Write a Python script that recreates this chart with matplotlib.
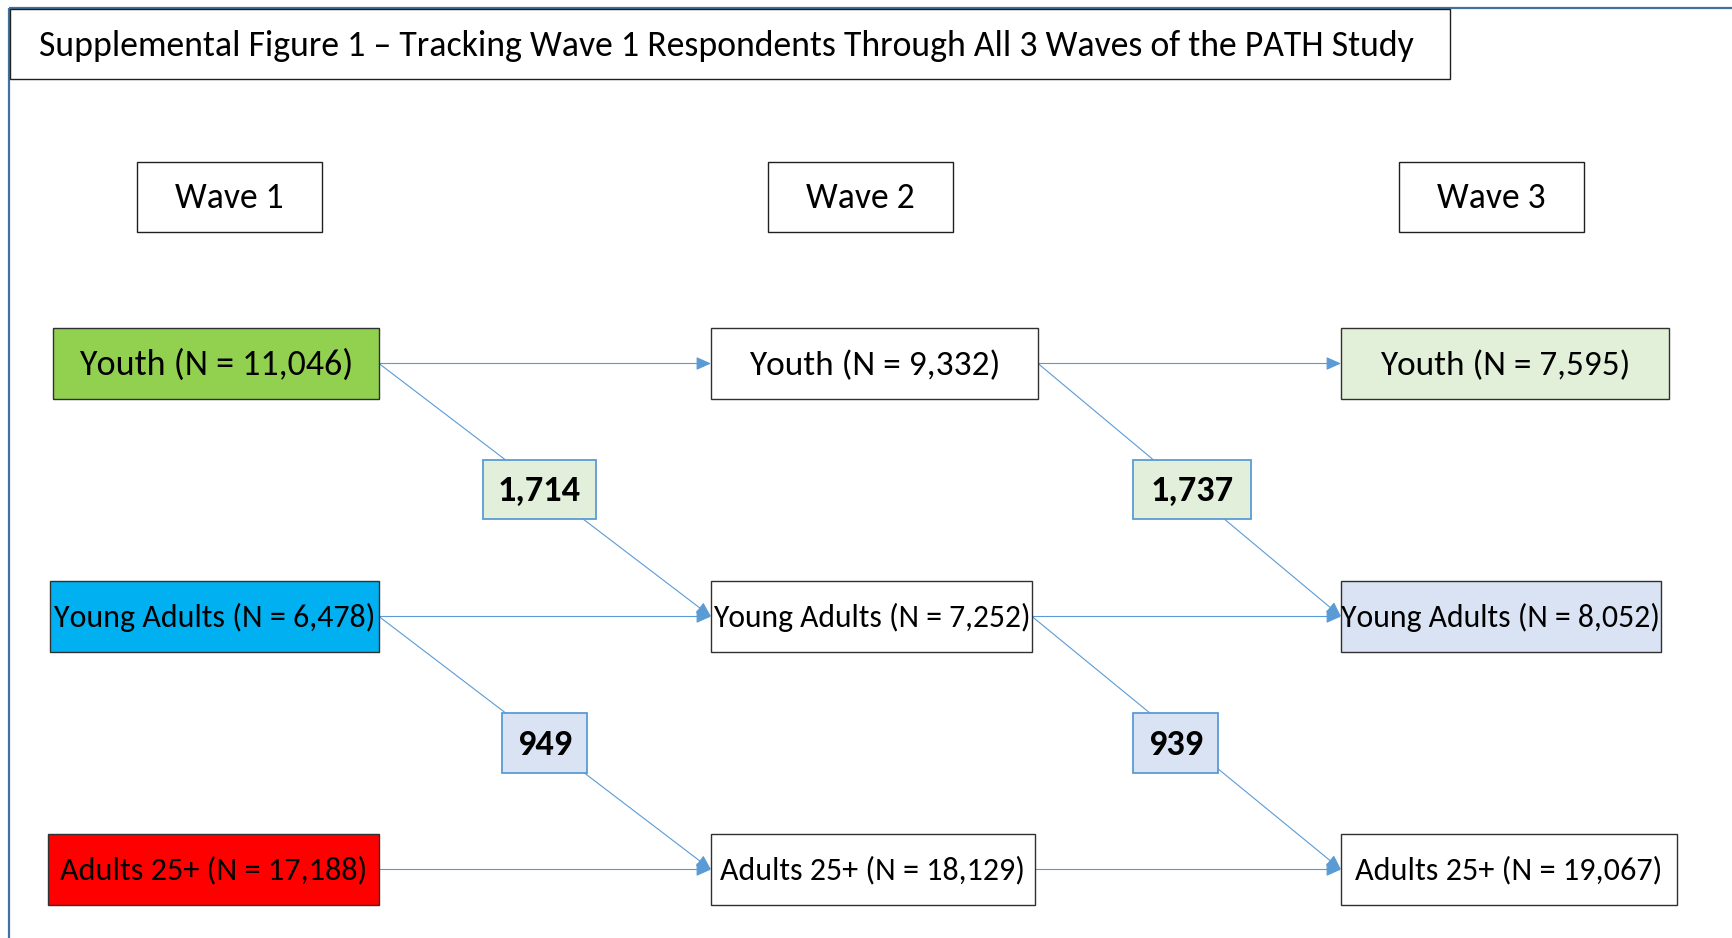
import matplotlib
matplotlib.use("Agg")
import matplotlib.pyplot as plt
from matplotlib.patches import Rectangle, FancyArrowPatch
from matplotlib.textpath import TextPath
from matplotlib.font_manager import FontProperties

# ---------------- data ----------------
title = "Supplemental Figure 1 \u2013 Tracking Wave 1 Respondents Through All 3 Waves of the PATH Study"
waves = ["Wave 1", "Wave 2", "Wave 3"]
groups = ["Youth", "Young Adults", "Adults 25+"]
youth_n = [11046, 9332, 7595]
young_adult_n = [6478, 7252, 8052]
adult_n = [17188, 18129, 19067]
aged_to_young_adult = [1714, 1737]   # Youth -> Young Adults between waves
aged_to_adult = [949, 939]           # Young Adults -> Adults 25+ between waves

# ---------------- layout (pixels) ----------------
W, H = 1733, 938
DPI = 100
FONT = "Carlito"
fig = plt.figure(figsize=(W / DPI, H / DPI), dpi=DPI)
ax = fig.add_axes([0, 0, 1, 1])
ax.set_xlim(0, W)
ax.set_ylim(H, 0)
ax.axis("off")

PX_PER_PT = DPI / 72.0


def ink_w(text, weight="normal"):
    fp = FontProperties(family=FONT, size=100, weight=weight)
    return TextPath((0, 0), text, prop=fp).get_extents().width


def cap_px(size, weight="normal"):
    fp = FontProperties(family=FONT, size=100, weight=weight)
    return TextPath((0, 0), "H", prop=fp).get_extents().height * size / 100 * PX_PER_PT


def fit(text, target_px, weight="normal"):
    return target_px * 100 / (ink_w(text, weight) * PX_PER_PT)


def put(text, xc, yc, size, weight="normal", ha="center", z=3):
    ax.text(xc, yc + cap_px(size, weight) / 2, text, fontsize=size, family=FONT, weight=weight,
            ha=ha, va="baseline", zorder=z)


# frame lines
frame_c = "#41719C"
ax.plot([9, 9], [8, H], color=frame_c, lw=1.6, zorder=0, solid_capstyle="butt")
ax.plot([9, W], [8, 8], color=frame_c, lw=1.6, zorder=0, solid_capstyle="butt")

# title box
ax.add_patch(Rectangle((10, 9), 1440, 70, facecolor="white", edgecolor="#202020", lw=1.0, zorder=2))
put(title, 39, 45, fit(title, 1373), ha="left")

# wave header boxes
wave_x = [137, 768, 1399]
wave_fs = fit(waves[0], 107)
for wx, wl in zip(wave_x, waves):
    ax.add_patch(Rectangle((wx, 162), 185, 70, facecolor="white", edgecolor="#202020", lw=1.0, zorder=2))
    put(wl, wx + 92.5, 197, wave_fs)

# group boxes geometry
row_y = [(328, 399), (581, 652), (834, 905)]
box_x = [
    [(53, 379), (711, 1038), (1341, 1669)],
    [(50, 379), (711, 1032), (1341, 1661)],
    [(48, 379), (711, 1035), (1341, 1677)],
]
text_w = [
    [271, 249, 248],
    [319, 316, 317],
    [305, 303, 305],
]
fills = [
    ["#92D050", "white", "#E2F0D9"],
    ["#00B0F0", "white", "#DAE3F3"],
    ["#FF0000", "white", "white"],
]
values = [youth_n, young_adult_n, adult_n]

for r, (grp, vals) in enumerate(zip(groups, values)):
    y0, y1 = row_y[r]
    for c, v in enumerate(vals):
        x0, x1 = box_x[r][c]
        ax.add_patch(Rectangle((x0, y0), x1 - x0, y1 - y0, facecolor=fills[r][c],
                               edgecolor="#303030", lw=1.0, zorder=2))
        label = f"{grp} (N = {v:,})"
        put(label, (x0 + x1) / 2, (y0 + y1) / 2, fit(label, text_w[r][c]))

# arrows
arrow_c = "#5B9BD5"


def arrow(p0, p1):
    a = FancyArrowPatch(p0, p1, arrowstyle="-|>,head_length=0.9,head_width=0.4",
                        mutation_scale=10, color=arrow_c, lw=0.8, shrinkA=0, shrinkB=0, zorder=1)
    ax.add_patch(a)


for r in range(3):
    yc = sum(row_y[r]) / 2
    for c in range(2):
        arrow((box_x[r][c][1], yc), (box_x[r][c + 1][0], yc))
for r in range(2):
    ya = sum(row_y[r]) / 2
    yb = sum(row_y[r + 1]) / 2
    for c in range(2):
        arrow((box_x[r][c][1], ya), (box_x[r + 1][c + 1][0], yb))

# transition count boxes
trans = [aged_to_young_adult, aged_to_adult]
trans_geom = [
    [((483, 596), (460, 519)), ((1133, 1251), (460, 519))],
    [((502, 587), (713, 773)), ((1133, 1218), (713, 773))],
]
trans_fill = ["#E2EFDA", "#DAE3F3"]
bold_fs = fit("1,714", 80, "bold")
for r, vals in enumerate(trans):
    for c, v in enumerate(vals):
        (x0, x1), (y0, y1) = trans_geom[r][c]
        ax.add_patch(Rectangle((x0, y0), x1 - x0, y1 - y0, facecolor=trans_fill[r],
                               edgecolor=arrow_c, lw=1.3, zorder=4))
        put(f"{v:,}", (x0 + x1) / 2, (y0 + y1) / 2, bold_fs, weight="bold", z=5)

fig.savefig("out.png", dpi=DPI, facecolor="white")
